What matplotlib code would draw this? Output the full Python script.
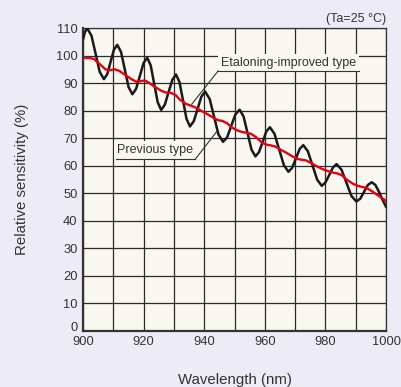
import numpy as np
import matplotlib
matplotlib.use("Agg")
import matplotlib.pyplot as plt
import matplotlib.transforms as mtransforms

# ── data ────────────────────────────────────────────────
# previous type: strong etaloning ripple (black)
prev_nm = [900.0, 900.7, 901.4, 902.8, 904.15, 905.5, 906.9, 908.0, 909.1, 910.2,
           911.3, 912.55, 913.8, 915.05, 916.3, 917.5, 918.75, 920.0, 921.2, 922.35,
           923.5, 924.65, 925.8, 927.0, 928.25, 929.5, 930.7, 931.85, 933.0, 934.15,
           935.3, 936.55, 937.8, 939.05, 940.3, 941.8, 943.25, 944.7, 946.2, 947.6,
           948.95, 950.3, 951.7, 953.0, 954.3, 955.6, 956.9, 958.1, 959.3, 960.5,
           961.7, 963.2, 964.75, 966.3, 967.8, 969.0, 970.25, 971.5, 972.7, 974.2,
           975.75, 977.3, 978.8, 980.0, 981.25, 982.5, 983.7, 985.3, 986.95, 988.6,
           990.2, 991.5, 992.75, 994.0, 995.3, 996.5, 997.7, 998.9, 1000.0]
prev_sens = [106.0, 108.8, 110.0, 107.3, 100.8, 94.2, 91.5, 93.3, 97.8, 102.2,
             104.0, 101.4, 95.0, 88.6, 86.0, 87.9, 92.6, 97.4, 99.3, 96.5,
             89.8, 83.1, 80.3, 82.2, 86.8, 91.3, 93.2, 90.4, 83.8, 77.1,
             74.3, 76.2, 80.6, 85.1, 87.0, 84.3, 77.9, 71.4, 68.7, 70.4,
             74.6, 78.7, 80.4, 77.9, 71.9, 65.9, 63.4, 65.0, 68.7, 72.5,
             74.0, 71.6, 65.9, 60.2, 57.8, 59.2, 62.6, 66.1, 67.5, 65.3,
             60.1, 54.9, 52.7, 53.9, 56.6, 59.4, 60.6, 58.6, 53.8, 49.0,
             47.0, 48.0, 50.5, 53.0, 54.0, 53.0, 50.5, 47.5, 45.1]

# etaloning-improved type (red)
new_nm = [900, 902, 903.5, 905, 906.5, 907.5, 909, 910.5, 912, 914, 916, 917.5,
          919, 920.5, 922, 924, 926, 927.5, 929, 930.5, 932, 934, 936, 937.5,
          939, 941, 943, 944.5, 946, 947.5, 949, 951, 952.5, 954, 955.5, 957,
          959, 960.5, 962, 963.5, 965, 967, 969, 970.5, 972, 973.5, 975, 977,
          979, 981, 982.5, 984, 985.5, 987, 989, 990.5, 992, 993.5, 995, 997,
          999, 1000]
new_sens = [99.3, 99.2, 98.9, 97.5, 96.0, 95.0, 94.8, 95.1, 94.5, 93.0, 91.5, 90.6,
            90.8, 91.0, 90.0, 88.5, 87.2, 86.6, 86.5, 85.8, 84.0, 82.5, 81.7, 81.0,
            80.0, 78.8, 77.5, 76.6, 76.3, 75.5, 74.0, 72.8, 72.3, 72.0, 71.6, 70.5,
            68.5, 67.7, 67.4, 67.0, 66.0, 64.8, 63.5, 62.6, 62.2, 62.0, 61.2, 59.9,
            58.8, 58.0, 57.5, 57.2, 56.5, 55.0, 53.5, 52.8, 52.3, 52.0, 51.0, 49.5,
            48.0, 47.2]

x_ticks = [900, 920, 940, 960, 980, 1000]
y_ticks = [0, 10, 20, 30, 40, 50, 60, 70, 80, 90, 100, 110]

# ── style ───────────────────────────────────────────────
FIG_BG = "#EDEBF6"
AX_BG = "#F8F7F0"
INK = "#333333"
RED = "#E60012"

plt.rcParams["font.family"] = ["Liberation Sans", "DejaVu Sans"]

fig = plt.figure(figsize=(4.01, 3.87), dpi=100, facecolor=FIG_BG)
ax = fig.add_axes([83 / 401, 1 - 330.7 / 387, 303 / 401, 302.4 / 387])
ax.set_facecolor(AX_BG)

ax.set_xlim(900, 1000)
ax.set_ylim(0, 110)
ax.set_xticks(x_ticks)
ax.set_yticks(y_ticks)
ax.set_xticks(np.arange(900, 1001, 10), minor=True)
ax.tick_params(which="both", length=0, labelsize=9.3, colors=INK)
ax.tick_params(axis="x", pad=4)
ax.tick_params(axis="y", pad=4)
ax.grid(which="both", color="#2a2a2a", linewidth=0.9, zorder=0)
ax.set_axisbelow(True)

# nudge the "0" label up so it clears "900", as in the original
zero_lbl = ax.yaxis.get_major_ticks()[0].label1
zero_lbl.set_transform(zero_lbl.get_transform()
                       + mtransforms.ScaledTranslation(0, 4 / 100, fig.dpi_scale_trans))

for side in ("top", "right"):
    ax.spines[side].set_linewidth(0.9)
    ax.spines[side].set_color(INK)
for side in ("left", "bottom"):
    ax.spines[side].set_linewidth(1.6)
    ax.spines[side].set_color(INK)

# curves
ax.plot(prev_nm, prev_sens, color="#1a1a1a", linewidth=1.8, zorder=4,
        solid_joinstyle="round")
ax.plot(new_nm, new_sens, color=RED, linewidth=1.7, zorder=5,
        solid_joinstyle="round")

# labels with underline + leader line
def callout(label, tx, ty, ux0, ux1, uy, target):
    ax.text(tx, ty, label, ha="center", va="center", fontsize=9, color=INK,
            zorder=3, bbox=dict(boxstyle="square,pad=0.25", fc=AX_BG, ec="none"))
    ax.plot([ux0, ux1], [uy, uy], color=INK, linewidth=0.8, zorder=3)
    lx = ux0 if target[0] < ux0 else ux1
    ax.plot([lx, target[0]], [uy, target[1]], color=INK, linewidth=0.8, zorder=6)

callout("Etaloning-improved type", 967.8, 97.4, 944.6, 991.2, 94.5, (935.9, 82.4))
callout("Previous type", 923.9, 65.6, 910.9, 937.0, 62.3, (944.1, 72.4))

ax.text(1.0, 1.01, "(Ta=25 °C)", transform=ax.transAxes, ha="right", va="bottom",
        fontsize=9, color=INK)

ax.set_xlabel("Wavelength (nm)", fontsize=10.8, color=INK, labelpad=18)
ax.set_ylabel("Relative sensitivity (%)", fontsize=10.8, color=INK, labelpad=19)

fig.savefig("out.png", dpi=100, facecolor=FIG_BG)
